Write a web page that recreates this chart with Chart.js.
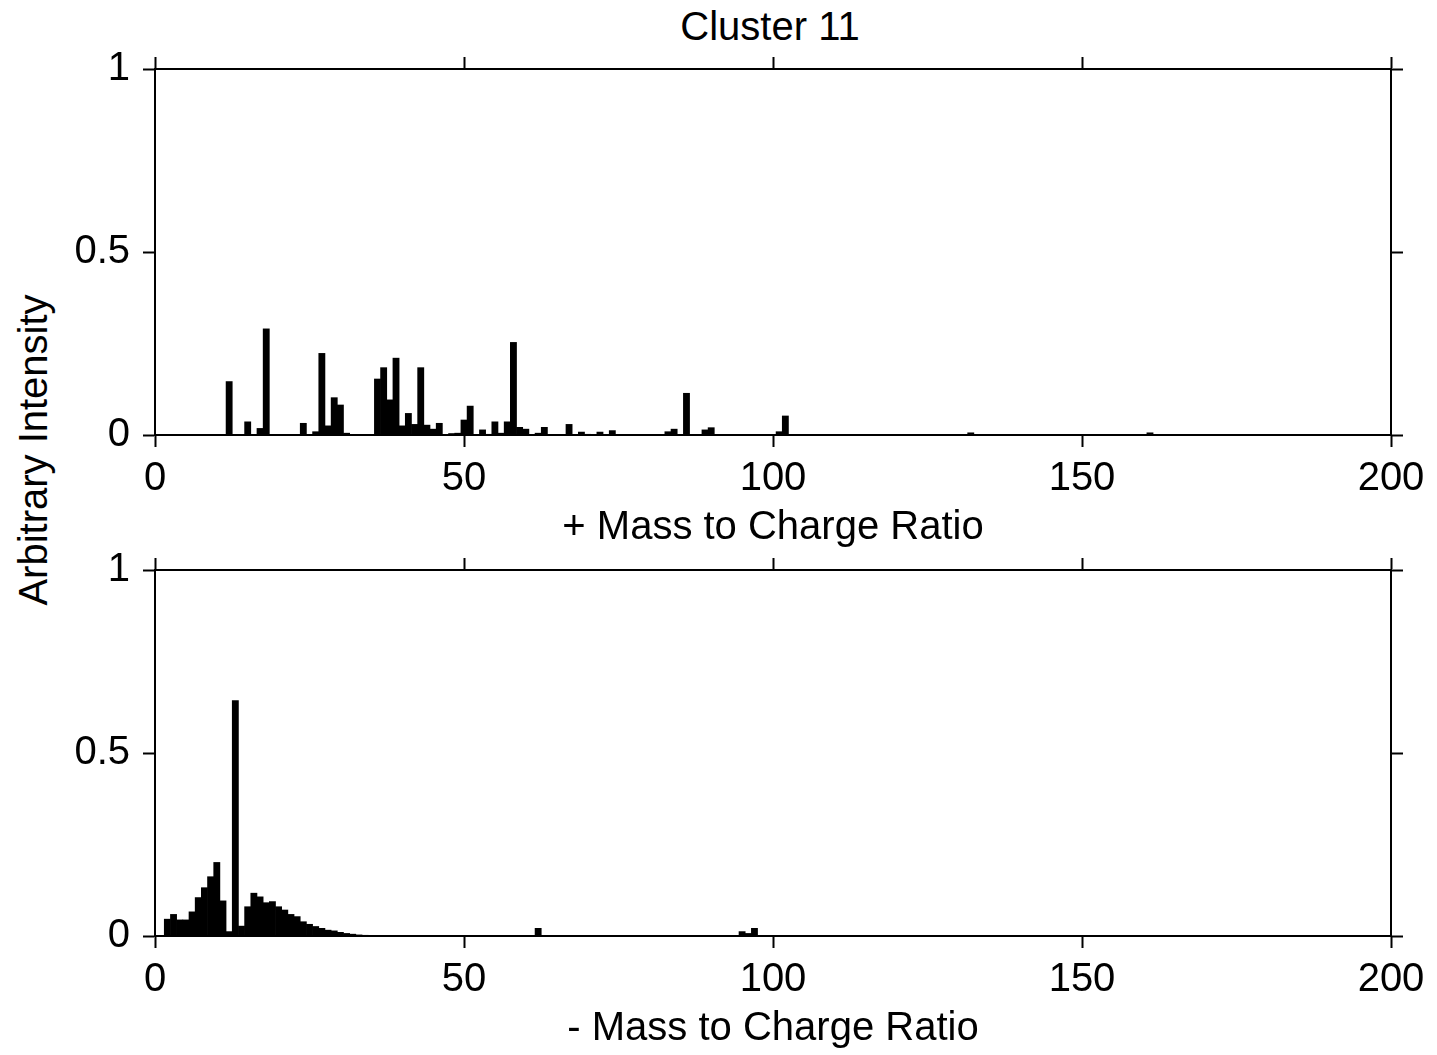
<!DOCTYPE html>
<html>
<head>
<meta charset="utf-8">
<script src="https://cdn.jsdelivr.net/npm/chart.js@4.4.0/dist/chart.umd.min.js"></script>
<style>
  html, body { margin: 0; padding: 0; background: #fff; }
  body { width: 1437px; height: 1055px; position: relative; overflow: hidden; font-family: "Liberation Sans", Arial, sans-serif; }
  canvas { position: absolute; left: 0; }
  #cA { top: 0; }
  #cB { top: 520px; }
  .txt { position: absolute; font-size: 40px; line-height: 40px; color: #000; white-space: nowrap; }
  #title { left: 770px; top: 6px; transform: translateX(-50%); }
  #ylab { left: 33px; top: 450px; transform: translate(-50%, -50%) rotate(-90deg); }
</style>
</head>
<body>
<div class="txt" id="title">Cluster 11</div>
<div class="txt" id="ylab">Arbitrary Intensity</div>
<canvas id="cA" width="1437" height="550"></canvas>
<canvas id="cB" width="1437" height="535"></canvas>
<script>
// ---- data ----
const titleText = "Cluster 11";
const posTitle = "+ Mass to Charge Ratio";
const negTitle = "- Mass to Charge Ratio";
const xTicks = [0, 50, 100, 150, 200];
const yTicks = [0, 0.5, 1];

const posMz = [12, 15, 17, 18, 24, 26, 27, 28, 29, 30, 31, 36, 37, 38, 39, 40, 41, 42, 43, 44, 45, 46, 48, 49, 50, 51, 53, 54, 55, 56, 57, 58, 59, 60, 62, 63, 67, 69, 70, 72, 74, 83, 84, 86, 89, 90, 101, 102, 132, 161];
const posVal = [0.146, 0.036, 0.018, 0.29, 0.032, 0.009, 0.223, 0.025, 0.102, 0.082, 0.005, 0.153, 0.184, 0.096, 0.21, 0.025, 0.059, 0.029, 0.184, 0.027, 0.016, 0.032, 0.004, 0.005, 0.041, 0.079, 0.014, 0.002, 0.036, 0.005, 0.036, 0.253, 0.021, 0.016, 0.005, 0.021, 0.029, 0.008, 0.002, 0.008, 0.012, 0.009, 0.016, 0.114, 0.014, 0.02, 0.009, 0.052, 0.006, 0.006];

const negMz = [2, 3, 4, 5, 6, 7, 8, 9, 10, 11, 12, 13, 14, 15, 16, 17, 18, 19, 20, 21, 22, 23, 24, 25, 26, 27, 28, 29, 30, 31, 32, 33, 34, 62, 95, 96, 97];
const negVal = [0.046, 0.059, 0.044, 0.044, 0.066, 0.105, 0.132, 0.162, 0.201, 0.096, 0.012, 0.643, 0.027, 0.08, 0.117, 0.107, 0.091, 0.094, 0.08, 0.071, 0.059, 0.053, 0.039, 0.032, 0.026, 0.021, 0.016, 0.014, 0.01, 0.007, 0.005, 0.003, 0.002, 0.021, 0.012, 0.007, 0.021];

const FONT = "'Liberation Sans', Arial, sans-serif";

function toPoints(xs, ys) { return xs.map((x, i) => ({ x: x, y: ys[i] })); }

function axisCommon(extra) {
  return Object.assign({
    border: { display: true, color: '#000', width: 2, z: 1 },
    grid: { display: true, drawOnChartArea: false, drawTicks: true, tickLength: 12, tickWidth: 2, tickColor: '#000', offset: false },
  }, extra);
}

function makeChart(id, xs, ys, xTitle, topH, botH, titlePadBottom) {
  const xOpts = {
    type: 'linear', min: 0, max: 200, offset: false,
    afterBuildTicks: s => { s.ticks = xTicks.map(v => ({ value: v })); }
  };
  const yOpts = {
    type: 'linear', min: 0, max: 1,
    afterBuildTicks: s => { s.ticks = yTicks.map(v => ({ value: v })); }
  };
  return new Chart(document.getElementById(id), {
    type: 'bar',
    data: {
      datasets: [{
        data: toPoints(xs, ys),
        backgroundColor: '#000',
        borderWidth: 0,
        barPercentage: 1.0,
        categoryPercentage: 1.0,
        xAxisID: 'x', yAxisID: 'y'
      }]
    },
    options: {
      responsive: false, animation: false, devicePixelRatio: 1,
      layout: { padding: 0 },
      plugins: { legend: { display: false }, tooltip: { enabled: false }, title: { display: false } },
      scales: {
        x: axisCommon(Object.assign({}, xOpts, {
          position: 'bottom',
          ticks: { color: '#000', font: { family: FONT, size: 40 }, padding: 8, maxRotation: 0, autoSkip: false, callback: v => String(v) },
          title: { display: true, text: xTitle, color: '#000', font: { family: FONT, size: 40, lineHeight: 1.0 }, padding: { top: 0, bottom: titlePadBottom } },
          afterFit: s => { s.height = botH; }
        })),
        x2: axisCommon(Object.assign({}, xOpts, {
          position: 'top',
          ticks: { display: false },
          afterFit: s => { s.height = topH; }
        })),
        y: axisCommon(Object.assign({}, yOpts, {
          position: 'left',
          ticks: { color: '#000', font: { family: FONT, size: 40 }, padding: 13, callback: v => String(v) },
          afterFit: s => { s.width = 155; }
        })),
        y2: axisCommon(Object.assign({}, yOpts, {
          position: 'right',
          ticks: { display: false },
          afterFit: s => { s.width = 46; }
        }))
      }
    }
  });
}

document.getElementById('title').textContent = titleText;
makeChart('cA', posMz, posVal, posTitle, 69, 115, 2);
makeChart('cB', negMz, negVal, negTitle, 50, 119, 6);
</script>
</body>
</html>
